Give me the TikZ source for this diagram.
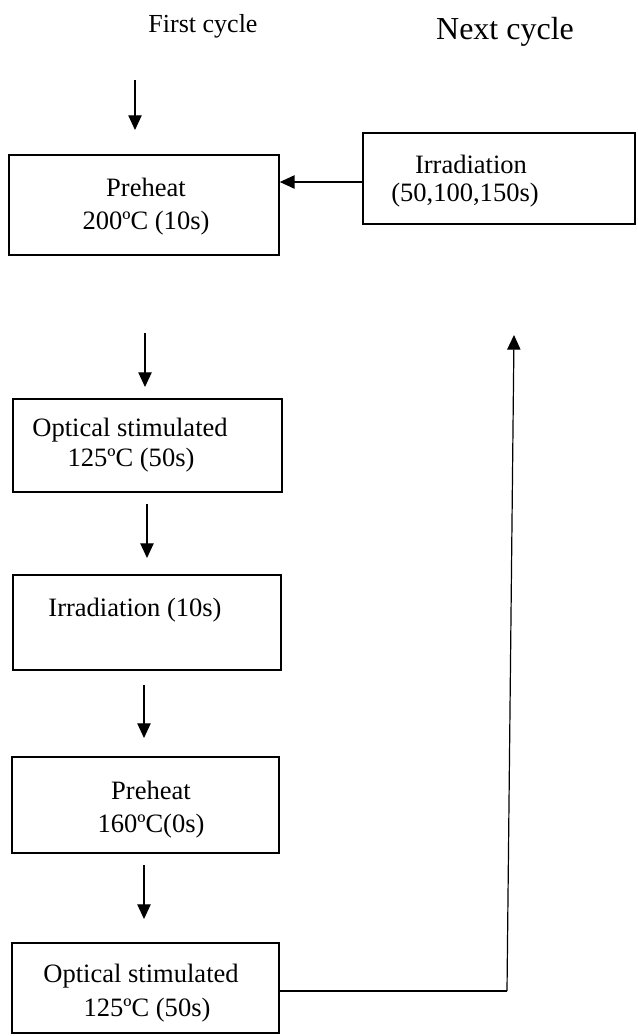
\documentclass[tikz,border=0pt]{standalone}
\usepackage{fontspec}
\setmainfont{Liberation Serif}
\usetikzlibrary{arrows.meta}
\begin{document}
\begin{tikzpicture}[x=0.75pt,y=-0.75pt,
  box/.style={draw=black, line width=1.3pt, rectangle, inner sep=0pt},
  txt/.style={font=\fontsize{19.9}{24}\selectfont, inner sep=0pt, anchor=base},
  arr/.style={line width=0.9pt, -{Triangle[length=11pt,width=10pt]}},
  ret/.style={line width=0.9pt}]
\useasboundingbox (0,0) rectangle (637,1036);
\fill[white] (0,0) rectangle (637,1036);

% titles
\node[txt, font=\fontsize{19.5}{24}\selectfont] (first) at (203,32) {First cycle};
\node[txt, font=\fontsize{24}{28}\selectfont] (next) at (505,39) {Next cycle};

% boxes
\node[box, minimum width=202.5pt, minimum height=75pt] (p1) at (144,205) {};
\node[box, minimum width=204pt, minimum height=68.25pt] (irr) at (499,178.5) {};
\node[box, minimum width=201.75pt, minimum height=69.75pt] (os1) at (147.5,445.5) {};
\node[box, minimum width=201pt, minimum height=71.25pt] (ir10) at (147,622.5) {};
\node[box, minimum width=200.25pt, minimum height=72pt] (p2) at (145.5,805) {};
\node[box, minimum width=200.25pt, minimum height=67.5pt] (os2) at (145.5,988) {};

% texts
\node[txt] (p1a) at (146,196) {Preheat};
\node[txt] (p1b) at (146,229) {200ºC (10s)};
\node[txt] (irra) at (471,173) {Irradiation};
\node[txt] (irrb) at (465,201) {(50,100,150s)};
\node[txt] (os1a) at (130,436) {Optical stimulated};
\node[txt] (os1b) at (131,466) {125ºC (50s)};
\node[txt] (ir10a) at (135,616) {Irradiation (10s)};
\node[txt] (p2a) at (151,799) {Preheat};
\node[txt] (p2b) at (151,832) {160ºC(0s)};
\node[txt] (os2a) at (141,982) {Optical stimulated};
\node[txt] (os2b) at (147,1016) {125ºC (50s)};

% arrow coordinates
\coordinate (a1s) at (135,80);  \coordinate (a1e) at (135,130);
\coordinate (a2s) at (145,333); \coordinate (a2e) at (145,387);
\coordinate (a3s) at (147,504); \coordinate (a3e) at (147,558);
\coordinate (a4s) at (144,685); \coordinate (a4e) at (144,738);
\coordinate (a5s) at (144,865); \coordinate (a5e) at (144,919);
\coordinate (rc) at (507,991);
\coordinate (rt) at (514,335);

\draw[arr] (a1s) -- (a1e);
\draw[arr] (a2s) -- (a2e);
\draw[arr] (a3s) -- (a3e);
\draw[arr] (a4s) -- (a4e);
\draw[arr] (a5s) -- (a5e);
\draw[arr] (irr.west |- 0,182) -- (p1.east |- 0,182);
\draw[line width=1.3pt] (os2.east |- 0,991) -- (rc);
\draw[arr] (rc) -- (rt);
\end{tikzpicture}
\end{document}
